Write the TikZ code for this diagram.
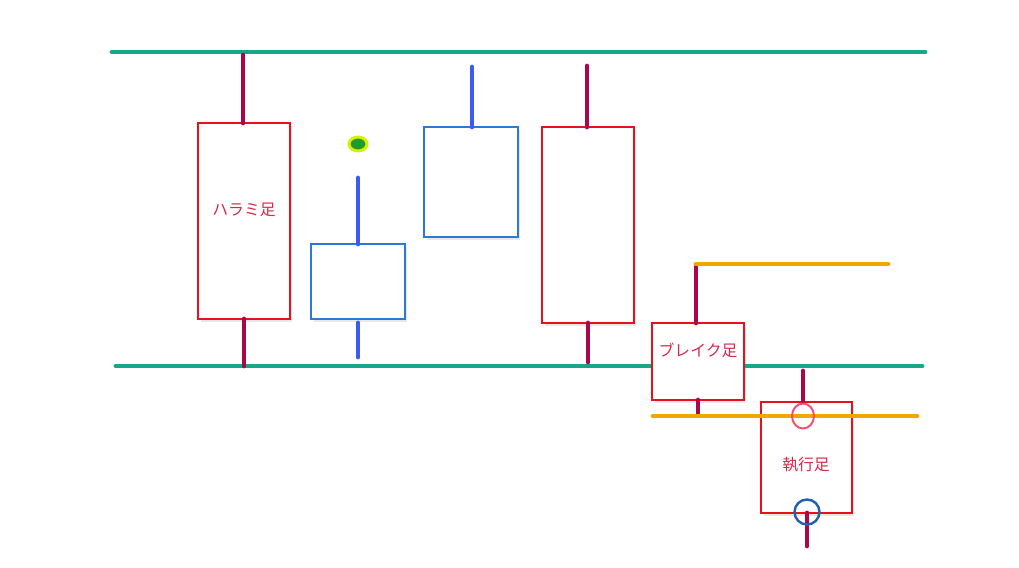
\documentclass[tikz,border=0pt]{standalone}
\usepackage{fontspec}
\newfontfamily\jpfont{Noto Sans CJK JP}
\usetikzlibrary{shadows,shapes.geometric}

\definecolor{teal1}{HTML}{14A88A}
\definecolor{wickred}{HTML}{A8084A}
\definecolor{wickblue}{HTML}{3D5AF1}
\definecolor{boxblue}{HTML}{2B7AD8}
\definecolor{boxred}{HTML}{E8101A}
\definecolor{gold}{HTML}{F0A800}
\definecolor{labelred}{HTML}{D8284A}
\definecolor{entrypink}{HTML}{F0506A}
\definecolor{dotgreen}{HTML}{1E9A2E}
\definecolor{dotyellow}{HTML}{D8F000}

\tikzset{
  candle/.style={rectangle,draw=#1,line width=1.1pt,fill=white,inner sep=0pt,outer sep=0pt,
    drop shadow={shadow xshift=0.05cm,shadow yshift=-0.06cm,opacity=0.18}},
  wick/.style={draw=#1,line width=2.8pt,line cap=round},
  level/.style={draw=#1,line width=2.8pt,line cap=round},
  candletext/.style={text=labelred,font=\jpfont\fontsize{9}{10}\selectfont}
}

\begin{document}
\begin{tikzpicture}[x=0.02cm,y=-0.02cm]
           \useasboundingbox (0,0) rectangle (1019,568);
           % levels
           \draw[level=teal1] (112,52) -- (925,52);
           \draw[level=teal1] (116,366) -- (922,366);
           % candles
           \node[candle=boxred,minimum width=1.84cm,minimum height=3.92cm] (harami) at (244,221) {};
           \node[candle=boxblue,minimum width=1.88cm,minimum height=1.5cm] (blueA) at (358,281.5) {};
           \node[candle=boxblue,minimum width=1.88cm,minimum height=2.2cm] (blueB) at (471,182) {};
           \node[candle=boxred,minimum width=1.84cm,minimum height=3.92cm] (redA) at (588,225) {};
           \node[candle=boxred,minimum width=1.84cm,minimum height=1.54cm] (breakc) at (698,361.5) {};
           \node[candle=boxred,minimum width=1.82cm,minimum height=2.22cm] (execc) at (806.5,457.5) {};
           \node[candletext] (haramitext) at (244,210) {ハラミ足};
           \node[candletext] (breaktext) at (698,350) {ブレイク足};
           \node[candletext] (exectext) at (806,465) {執行足};
           % wicks
           \coordinate (haramihi) at (243,55);
           \coordinate (haramilo) at (244,366);
           \coordinate (blueAhi) at (358,178);
           \coordinate (blueAlo1) at (358,323);
           \coordinate (blueAlo2) at (358,357);
           \coordinate (blueBhi) at (472,67);
           \coordinate (redAhi) at (587,66);
           \coordinate (redAlo) at (588,362);
           \coordinate (breakhi) at (696,265);
           \coordinate (breaklo) at (698,413);
           \coordinate (exechi) at (803,371);
           \coordinate (execlo) at (807,546);
           \draw[wick=wickred] (haramihi) -- (haramihi |- harami.north);
           \draw[wick=wickred] (haramilo |- harami.south) -- (haramilo);
           \draw[wick=wickblue] (blueAhi) -- (blueAhi |- blueA.north);
           \draw[wick=wickblue] (blueAlo1) -- (blueAlo2);
           \draw[wick=wickblue] (blueBhi) -- (blueBhi |- blueB.north);
           \draw[wick=wickred] (redAhi) -- (redAhi |- redA.north);
           \draw[wick=wickred] (redAlo |- redA.south) -- (redAlo);
           \draw[wick=wickred] (breakhi) -- (breakhi |- breakc.north);
           \draw[wick=wickred] (breaklo |- breakc.south) -- (breaklo);
           \draw[wick=wickred] (exechi) -- (exechi |- execc.north);
           \draw[wick=wickred] (execlo |- execc.south) -- (execlo);
           % break levels
           \coordinate (goldend) at (888,264);
           \draw[level=gold] (breakhi |- goldend) -- (goldend);
           \draw[level=gold] (653,416) -- (917,416);
           % marks
           \node[ellipse,fill=dotgreen,draw=dotyellow,line width=1.7pt,inner sep=0pt,minimum width=0.36cm,minimum height=0.28cm] (dot) at (358,144) {};
           \node[ellipse,draw=entrypink,line width=1.1pt,inner sep=0pt,minimum width=0.44cm,minimum height=0.5cm] (entry) at (803,416) {};
           \node[circle,draw=boxblue!80!black,line width=1.4pt,inner sep=0pt,minimum size=0.5cm] (stop) at (807,512) {};
        \end{tikzpicture}
\end{document}
